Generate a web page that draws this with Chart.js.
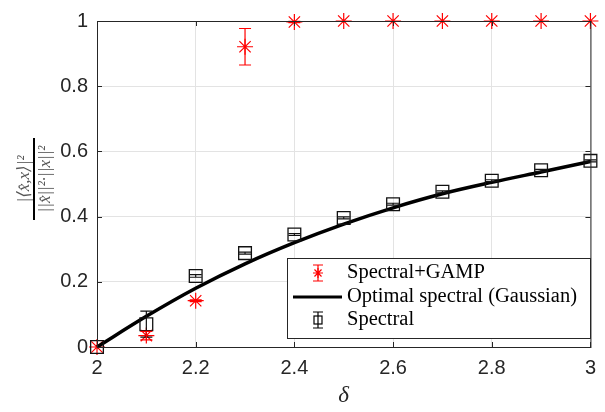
<!DOCTYPE html>
<html>
<head>
<meta charset="utf-8">
<script src="https://cdn.jsdelivr.net/npm/chart.js@4.4.1/dist/chart.umd.min.js"></script>
<style>
  html, body { margin: 0; padding: 0; background: #fff; }
  #wrap { width: 605px; height: 412px; }
</style>
</head>
<body>
<div id="wrap"><canvas id="chart" width="605" height="412"></canvas></div>
<script>
const delta = [2, 2.1, 2.2, 2.3, 2.4, 2.5, 2.6, 2.7, 2.8, 2.9, 3];
const gampMean = [0, 0.035, 0.142, 0.921, 0.997, 1, 1, 1, 1, 1, 1];
const gampErr = [0, 0.013, 0.003, 0.056, 0.002, 0, 0, 0, 0, 0, 0];
const spectralMean = [0, 0.07, 0.218, 0.288, 0.345, 0.396, 0.438, 0.476, 0.51, 0.542, 0.571];
const spectralErr = [0, 0.04, 0.004, 0.003, 0.003, 0.003, 0.003, 0.003, 0.003, 0.003, 0.003];
const optimalValue = [0, 0.094, 0.18, 0.255, 0.32, 0.377, 0.427, 0.47, 0.505, 0.537, 0.569];
const xTicks = [2, 2.2, 2.4, 2.6, 2.8, 3];
const yTicks = [0, 0.2, 0.4, 0.6, 0.8, 1];

const axisColor = '#262626';
const tickFont = { family: '"Liberation Sans", Arial, sans-serif', size: 20 };
const serif = '"Liberation Serif", "DejaVu Serif", serif';

function pts(ys) {
  return delta.map((x, i) => ({ x: x, y: ys[i] }));
}

// vertical error bars with caps, for datasets carrying an errors array
const errorBars = {
  id: 'errorBars',
  afterDatasetsDraw(chart) {
    const ctx = chart.ctx;
    const xs = chart.scales.x, ys = chart.scales.y;
    chart.data.datasets.forEach(ds => {
      if (!ds.errors) return;
      ctx.save();
      ctx.strokeStyle = ds.borderColor;
      ctx.lineWidth = 1.2;
      ds.data.forEach((p, i) => {
        const e = ds.errors[i];
        if (!e) return;
        const px = xs.getPixelForValue(p.x);
        const top = ys.getPixelForValue(p.y + e);
        const bot = ys.getPixelForValue(p.y - e);
        ctx.beginPath();
        ctx.moveTo(px, top); ctx.lineTo(px, bot);
        ctx.moveTo(px - 6, top); ctx.lineTo(px + 6, top);
        ctx.moveTo(px - 6, bot); ctx.lineTo(px + 6, bot);
        ctx.stroke();
      });
      ctx.restore();
    });
  }
};

// axes box, inward ticks, axis titles and legend
const decorations = {
  id: 'decorations',
  afterDraw(chart) {
    const ctx = chart.ctx;
    const a = chart.chartArea;
    const xs = chart.scales.x, ys = chart.scales.y;
    ctx.save();
    ctx.strokeStyle = axisColor;
    ctx.lineWidth = 1;
    ctx.strokeRect(a.left + 0.5, a.top + 0.5, a.right - a.left, a.bottom - a.top);
    ctx.beginPath();
    xTicks.forEach(v => {
      const px = Math.round(xs.getPixelForValue(v)) + 0.5;
      ctx.moveTo(px, a.bottom); ctx.lineTo(px, a.bottom - 5);
      ctx.moveTo(px, a.top); ctx.lineTo(px, a.top + 5);
    });
    yTicks.forEach(v => {
      const py = Math.round(ys.getPixelForValue(v)) + 0.5;
      ctx.moveTo(a.left, py); ctx.lineTo(a.left + 5, py);
      ctx.moveTo(a.right, py); ctx.lineTo(a.right - 5, py);
    });
    ctx.stroke();

    // x title
    ctx.fillStyle = axisColor;
    ctx.font = 'italic 23px ' + serif;
    ctx.textAlign = 'center';
    ctx.textBaseline = 'middle';
    ctx.fillText('δ', (a.left + a.right) / 2, 396);

    // y title as a fraction, rotated
    ctx.save();
    ctx.translate(34, 179);
    ctx.rotate(-Math.PI / 2);
    ctx.fillStyle = '#555';
    ctx.font = 'italic 17px ' + serif;
    ctx.textAlign = 'center';
    ctx.textBaseline = 'alphabetic';
    ctx.fillText('|⟨x̂,x⟩|²', 0, -5);
    ctx.textBaseline = 'top';
    ctx.fillText('||x̂||²·||x||²', 0, 3);
    ctx.fillStyle = '#000';
    ctx.fillRect(-41, -1, 82, 2);
    ctx.restore();

    // legend
    const lx = 287, ly = 258, lw = 303, lh = 80;
    ctx.fillStyle = '#fff';
    ctx.fillRect(lx, ly, lw, lh);
    ctx.strokeStyle = axisColor;
    ctx.strokeRect(lx + 0.5, ly + 0.5, lw, lh);
    const rows = [273, 297, 320];
    const mx = 318;
    // Spectral+GAMP
    ctx.strokeStyle = '#ff0000';
    ctx.lineWidth = 1.2;
    ctx.beginPath();
    ctx.moveTo(mx, rows[0] - 8); ctx.lineTo(mx, rows[0] + 8);
    ctx.moveTo(mx - 5, rows[0] - 8); ctx.lineTo(mx + 5, rows[0] - 8);
    ctx.moveTo(mx - 5, rows[0] + 8); ctx.lineTo(mx + 5, rows[0] + 8);
    ctx.stroke();
    Chart.helpers.drawPoint(ctx, { pointStyle: 'star', radius: 5, borderWidth: 1.2 }, mx, rows[0]);
    // Optimal line
    ctx.strokeStyle = '#000';
    ctx.lineWidth = 3;
    ctx.beginPath();
    ctx.moveTo(293, rows[1]); ctx.lineTo(342, rows[1]);
    ctx.stroke();
    // Spectral
    ctx.lineWidth = 1.2;
    ctx.beginPath();
    ctx.moveTo(mx, rows[2] - 8); ctx.lineTo(mx, rows[2] + 8);
    ctx.moveTo(mx - 5, rows[2] - 8); ctx.lineTo(mx + 5, rows[2] - 8);
    ctx.moveTo(mx - 5, rows[2] + 8); ctx.lineTo(mx + 5, rows[2] + 8);
    ctx.stroke();
    ctx.strokeRect(mx - 4, rows[2] - 4, 8, 8);
    ctx.fillStyle = '#000';
    ctx.font = '20.5px ' + serif;
    ctx.textAlign = 'left';
    ctx.textBaseline = 'middle';
    ctx.fillText('Spectral+GAMP', 347, rows[0]);
    ctx.fillText('Optimal spectral (Gaussian)', 347, rows[1]);
    ctx.fillText('Spectral', 347, rows[2]);
    ctx.restore();
  }
};

new Chart(document.getElementById('chart'), {
  type: 'line',
  data: {
    datasets: [
      {
        label: 'Spectral',
        data: pts(spectralMean),
        errors: spectralErr,
        showLine: false,
        pointStyle: 'rect',
        pointRadius: 9,
        pointBorderWidth: 1.3,
        borderColor: '#111',
        backgroundColor: 'rgba(0,0,0,0)',
        clip: false
      },
      {
        label: 'Optimal spectral (Gaussian)',
        data: pts(optimalValue),
        borderColor: '#000',
        borderWidth: 3.5,
        pointRadius: 0,
        tension: 0.4,
        cubicInterpolationMode: 'monotone',
        fill: false,
        clip: false
      },
      {
        label: 'Spectral+GAMP',
        data: pts(gampMean),
        errors: gampErr,
        showLine: false,
        pointStyle: 'star',
        pointRadius: 8,
        pointBorderWidth: 1.2,
        borderColor: '#ff0000',
        backgroundColor: '#ff0000',
        clip: false
      }
    ]
  },
  options: {
    responsive: false,
    animation: false,
    devicePixelRatio: 1,
    layout: { padding: { top: 10, right: 7, left: 0, bottom: 0 } },
    plugins: { legend: { display: false }, tooltip: { enabled: false } },
    scales: {
      x: {
        type: 'linear',
        min: 2,
        max: 3,
        afterFit(scale) { scale.height = 65; },
        afterBuildTicks(scale) { scale.ticks = xTicks.map(v => ({ value: v })); },
        ticks: {
          color: axisColor,
          font: tickFont,
          padding: 9,
          maxRotation: 0,
          callback: v => String(v)
        },
        grid: { color: '#e3e3e3', drawTicks: false },
        border: { display: false }
      },
      y: {
        min: 0,
        max: 1,
        afterFit(scale) { scale.width = 97; },
        afterBuildTicks(scale) { scale.ticks = yTicks.map(v => ({ value: v })); },
        ticks: {
          color: axisColor,
          font: tickFont,
          padding: 9,
          callback: v => String(v)
        },
        grid: { color: '#e3e3e3', drawTicks: false },
        border: { display: false }
      }
    }
  },
  plugins: [errorBars, decorations]
});
</script>
</body>
</html>
